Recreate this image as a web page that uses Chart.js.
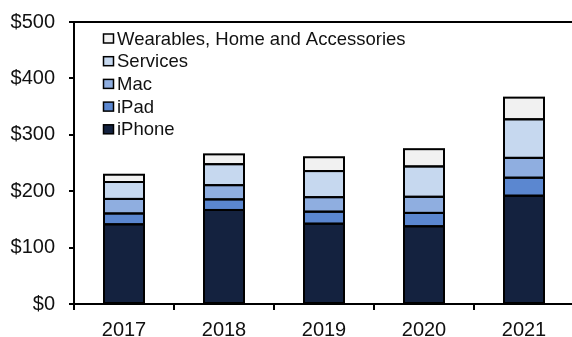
<!DOCTYPE html>
<html>
<head>
  <title>Apple revenue by product</title>
  <script src="https://cdn.jsdelivr.net/npm/chart.js"></script>
</head>
<body style="margin:0;overflow:hidden;background:#fff;">
  <div style="width:572px;height:337px;overflow:hidden;">
    <canvas id="chart" width="600" height="337"></canvas>
  </div>

  <script>
    // revenue in $bn
    const years = ["2017", "2018", "2019", "2020", "2021"];
    const iPhone = [141.3, 166.7, 142.4, 137.8, 192.0];
    const iPad = [19.2, 18.8, 21.3, 23.7, 31.9];
    const mac = [25.8, 25.2, 25.7, 28.6, 35.2];
    const services = [30.0, 37.2, 46.3, 53.8, 68.4];
    const wearables = [12.9, 17.4, 24.5, 30.6, 38.4];
    const yTicks = [0, 100, 200, 300, 400, 500];

    const font = "'Liberation Sans', Arial, sans-serif";

    function ds(label, data, color) {
      return {
        label: label,
        data: data,
        backgroundColor: color,
        borderWidth: 0
      };
    }

    // black outline around every segment, drawn over the fills so no seams show
    const outlines = {
      id: "outlines",
      afterDatasetsDraw(chart) {
        const c = chart.ctx;
        c.save();
        c.strokeStyle = "#000";
        c.lineWidth = 2;
        chart.data.datasets.forEach((d, i) => {
          chart.getDatasetMeta(i).data.forEach(el => {
            const p = el.getProps(["x", "y", "base", "width"], true);
            c.strokeRect(p.x - p.width / 2, p.y, p.width, p.base - p.y);
          });
        });
        c.restore();
      }
    };

    // legend sits inside the plot, top-left, reversed order
    const insideLegend = {
      id: "insideLegend",
      afterDraw(chart) {
        const c = chart.ctx;
        const sets = chart.data.datasets.slice().reverse();
        c.save();
        c.font = "18.5px " + font;
        c.textBaseline = "middle";
        sets.forEach((d, i) => {
          const y = 38.5 + i * 22.7;
          c.fillStyle = d.backgroundColor;
          c.fillRect(103.5, y - 4.5, 10, 9);
          c.strokeStyle = "#000";
          c.lineWidth = 1.5;
          c.strokeRect(103.5, y - 4.5, 10, 9);
          c.fillStyle = "#111";
          c.fillText(d.label, 117, y + 1);
        });
        c.restore();
      }
    };

    // top edge of the plot frame
    const frame = {
      id: "frame",
      beforeDatasetsDraw(chart) {
        const a = chart.chartArea;
        const c = chart.ctx;
        c.save();
        c.strokeStyle = "#000";
        c.lineWidth = 2;
        c.beginPath();
        c.moveTo(a.left, a.top);
        c.lineTo(a.right, a.top);
        c.stroke();
        c.restore();
      }
    };

    new Chart(document.getElementById("chart").getContext("2d"), {
      type: "bar",
      data: {
        labels: years,
        datasets: [
          ds("iPhone", iPhone, "#14223f"),
          ds("iPad", iPad, "#5b87d0"),
          ds("Mac", mac, "#8faee0"),
          ds("Services", services, "#c6d8ef"),
          ds("Wearables, Home and Accessories", wearables, "#f1f1f1")
        ]
      },
      options: {
        responsive: false,
        animation: false,
        layout: { padding: { top: 22, right: 26, bottom: 0, left: 0 } },
        datasets: { bar: { categoryPercentage: 1, barPercentage: 0.4 } },
        plugins: { legend: { display: false }, tooltip: { enabled: false } },
        scales: {
          x: {
            stacked: true,
            afterFit(s) { s.height = 33; },
            grid: { drawOnChartArea: false, drawTicks: true, tickLength: 6, color: "#000", lineWidth: 2, offset: true },
            border: { color: "#000", width: 2 },
            ticks: { color: "#111", padding: 8, font: { family: font, size: 20 } }
          },
          y: {
            stacked: true,
            min: 0,
            max: 500,
            afterFit(s) { s.width = 74; },
            afterBuildTicks(s) { s.ticks = yTicks.map(v => ({ value: v })); },
            grid: { drawOnChartArea: false, drawTicks: true, tickLength: 5, color: "#000", lineWidth: 2 },
            border: { color: "#000", width: 2 },
            ticks: {
              color: "#111",
              padding: 14,
              font: { family: font, size: 20, lineHeight: 0.8 },
              callback: v => "$" + v
            }
          }
        }
      },
      plugins: [outlines, insideLegend, frame]
    });
  </script>
</body>
</html>
